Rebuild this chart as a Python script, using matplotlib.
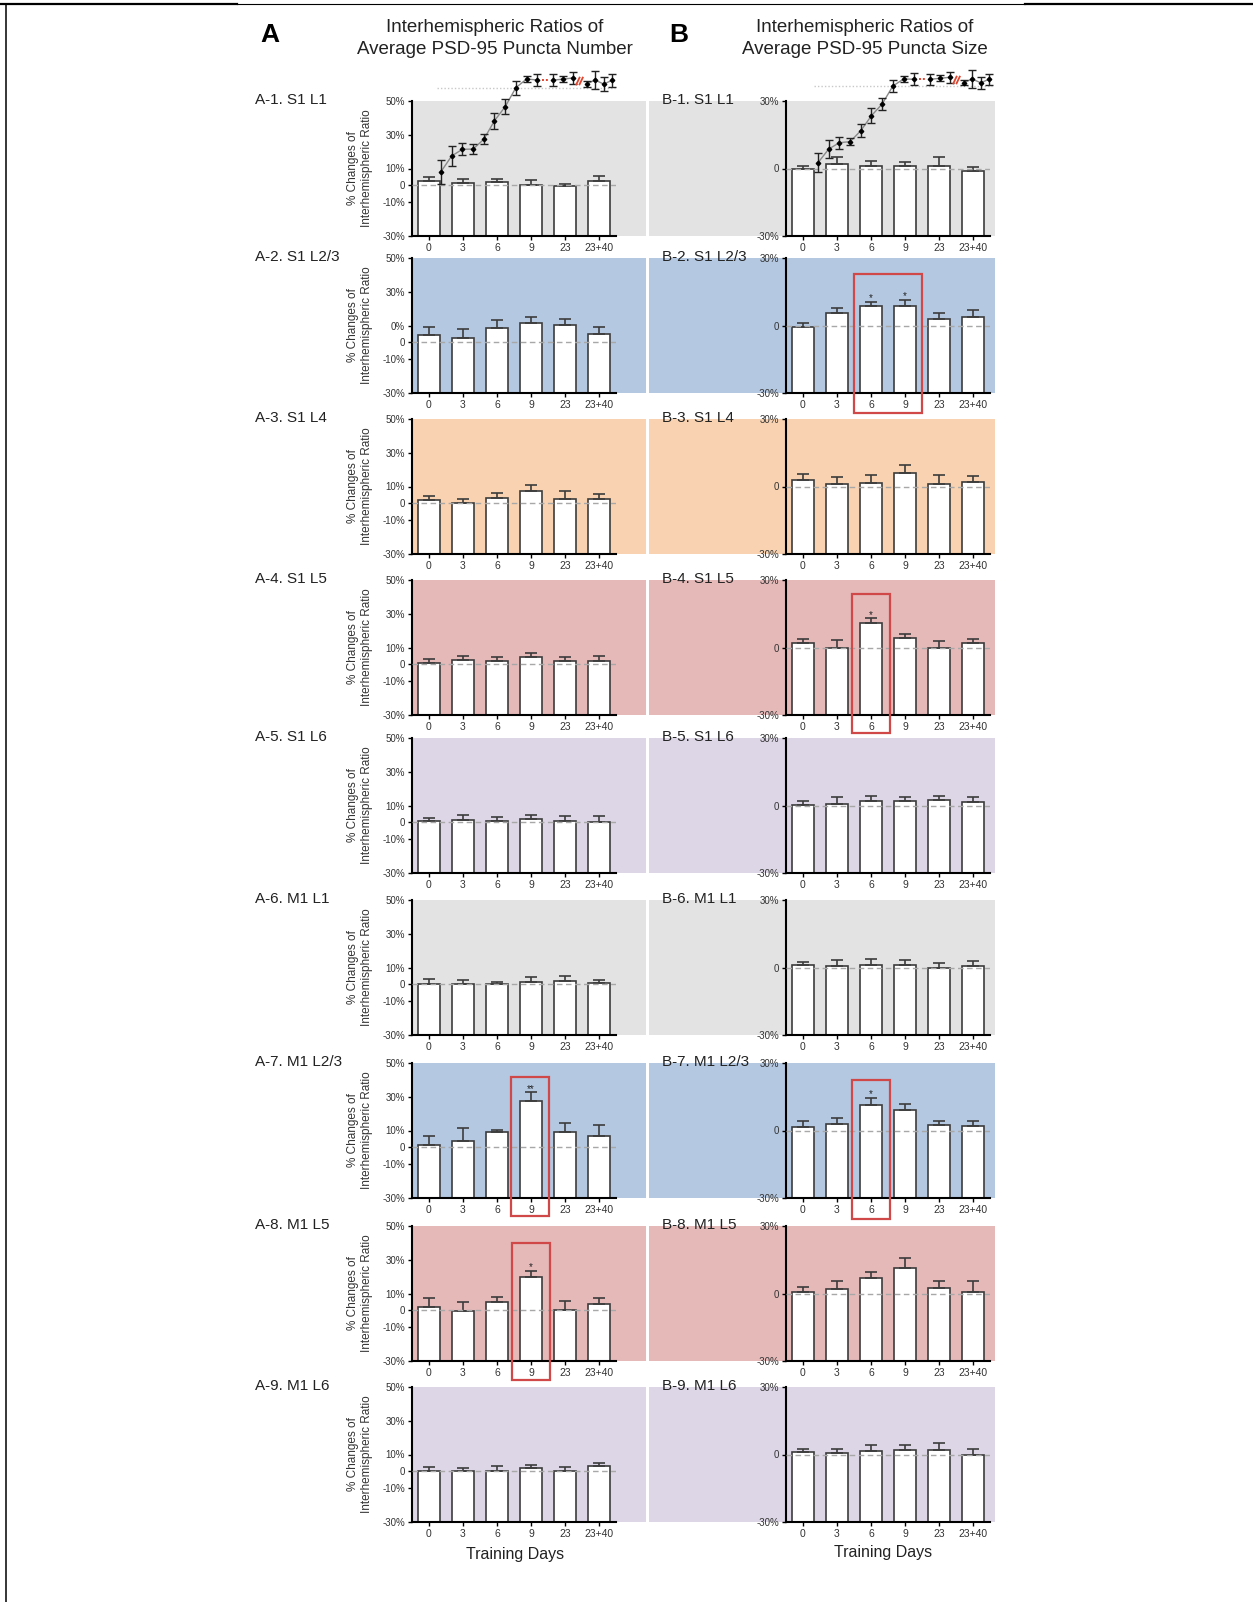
import matplotlib
matplotlib.use("Agg")
import matplotlib.pyplot as plt
from matplotlib.patches import Rectangle
from matplotlib.lines import Line2D

plt.rcParams["font.family"] = ["Liberation Sans", "DejaVu Sans"]

# ---------------------------------------------------------------- data
DAYS = ["0", "3", "6", "9", "23", "23+40"]
REGIONS = ["S1 L1", "S1 L2/3", "S1 L4", "S1 L5", "S1 L6",
           "M1 L1", "M1 L2/3", "M1 L5", "M1 L6"]

# Puncta number: % change of interhemispheric ratio (mean, SEM)
A1_MEAN = [2.5, 1.6, 2.0, 0.4, -0.6, 2.5]
A1_SEM = [2.2, 2.0, 1.6, 2.7, 1.4, 2.9]
A2_MEAN = [4.5, 2.7, 8.8, 11.2, 10.4, 4.7]
A2_SEM = [4.7, 5.5, 4.5, 3.7, 3.5, 4.3]
A3_MEAN = [1.8, 0.2, 2.9, 7.1, 2.7, 2.7]
A3_SEM = [2.7, 2.3, 3.1, 3.7, 4.9, 3.1]
A4_MEAN = [1.0, 2.4, 2.0, 4.5, 2.0, 2.2]
A4_SEM = [2.4, 2.5, 2.2, 2.4, 2.2, 2.7]
A5_MEAN = [0.8, 1.6, 1.0, 1.8, 0.8, 0.2]
A5_SEM = [2.0, 2.7, 2.4, 2.5, 2.9, 3.3]
A6_MEAN = [0.5, 0.3, 0.5, 1.5, 2.2, 0.8]
A6_SEM = [2.5, 2.0, 1.0, 3.0, 2.8, 1.7]
A7_MEAN = [1.3, 3.8, 8.9, 27.6, 9.3, 7.0]
A7_SEM = [5.4, 7.5, 1.3, 5.0, 5.0, 6.5]
A8_MEAN = [2.2, -0.5, 4.7, 20.0, 0.3, 3.7]
A8_SEM = [5.2, 5.5, 3.0, 3.5, 5.2, 3.7]
A9_MEAN = [0.3, 0.3, 0.5, 1.8, 0.5, 3.2]
A9_SEM = [2.0, 1.7, 2.5, 2.0, 2.2, 2.0]

# Puncta size: % change of interhemispheric ratio (mean, SEM)
B1_MEAN = [-0.3, 2.1, 1.0, 1.3, 1.3, -1.3]
B1_SEM = [1.6, 3.1, 2.2, 1.6, 3.6, 1.9]
B2_MEAN = [-0.7, 5.5, 8.6, 8.6, 3.0, 4.0]
B2_SEM = [1.9, 2.1, 1.8, 2.7, 2.4, 2.8]
B3_MEAN = [3.0, 1.0, 1.6, 6.0, 1.3, 1.8]
B3_SEM = [2.7, 3.4, 3.7, 3.7, 4.0, 2.8]
B4_MEAN = [1.9, 0.0, 11.1, 4.1, -0.1, 1.9]
B4_SEM = [1.8, 3.5, 1.8, 1.8, 2.8, 1.8]
B5_MEAN = [0.3, 0.7, 2.2, 1.8, 2.4, 1.5]
B5_SEM = [1.6, 3.0, 1.9, 2.2, 1.9, 2.1]
B6_MEAN = [1.2, 0.6, 1.2, 1.0, -0.2, 0.6]
B6_SEM = [1.3, 2.7, 2.7, 2.3, 2.1, 2.1]
B7_MEAN = [1.5, 2.9, 11.5, 9.2, 2.5, 1.9]
B7_SEM = [2.7, 2.5, 2.9, 2.7, 1.9, 2.5]
B8_MEAN = [0.6, 2.1, 6.7, 11.5, 2.3, 0.6]
B8_SEM = [2.5, 3.3, 2.9, 4.4, 3.3, 5.0]
B9_MEAN = [1.2, 0.6, 1.5, 1.9, 2.2, -0.1]
B9_SEM = [1.3, 1.9, 2.7, 2.5, 2.8, 2.4]

NO_SIG = ["", "", "", "", "", ""]
A7_SIG = ["", "", "", "**", "", ""]
A8_SIG = ["", "", "", "*", "", ""]
B2_SIG = ["", "", "*", "*", "", ""]
B4_SIG = ["", "", "*", "", "", ""]
B7_SIG = ["", "", "*", "", "", ""]

# learning curve (success rate, %) over training sessions
SESSION_X = [1, 2, 3, 4, 5, 6, 7, 8, 9, 10, 11.5, 12.4, 13.3, 14.6, 15.4, 16.2, 17.0]
A_CURVE = [14.1, 26.2, 31.3, 31.5, 39.0, 53.3, 64.1, 78.7, 85.4, 84.6,
           84.6, 85.2, 86.2, 81.5, 84.6, 81.5, 84.4]
A_CURVE_SEM = [9.2, 7.7, 4.6, 3.8, 3.7, 6.2, 5.8, 5.5, 2.1, 4.9,
               4.6, 2.3, 4.9, 2.1, 6.9, 5.4, 4.9]
B_CURVE = [21.0, 31.5, 36.4, 37.2, 45.6, 57.2, 66.2, 80.0, 85.4, 85.2,
           85.2, 85.9, 86.7, 82.5, 85.4, 82.5, 85.2]
B_CURVE_SEM = [7.3, 6.7, 4.6, 2.5, 4.8, 5.5, 4.8, 4.8, 2.5, 4.5,
               4.2, 2.2, 4.2, 2.1, 6.7, 4.8, 4.2]
A_PLATEAU = 78.5
B_PLATEAU = 80.0

A_YTICKS = [50, 30, 10, 0, -10, -30]
A_YTICKLABELS = ["50%", "30%", "10%", "0", "-10%", "-30%"]
A2_YTICKLABELS = ["50%", "30%", "0%", "0", "-10%", "-30%"]
B_YTICKS = [30, 0, -30]
B_YTICKLABELS = ["30%", "0", "-30%"]

LAYER_COLORS = {"L1": "#e3e3e3", "L2/3": "#b4c8e1", "L4": "#f9d3b1",
                "L5": "#e6b9b9", "L6": "#ddd6e6"}

A_MEANS = [A1_MEAN, A2_MEAN, A3_MEAN, A4_MEAN, A5_MEAN, A6_MEAN, A7_MEAN, A8_MEAN, A9_MEAN]
A_SEMS = [A1_SEM, A2_SEM, A3_SEM, A4_SEM, A5_SEM, A6_SEM, A7_SEM, A8_SEM, A9_SEM]
A_SIGS = [NO_SIG] * 6 + [A7_SIG, A8_SIG, NO_SIG]
B_MEANS = [B1_MEAN, B2_MEAN, B3_MEAN, B4_MEAN, B5_MEAN, B6_MEAN, B7_MEAN, B8_MEAN, B9_MEAN]
B_SEMS = [B1_SEM, B2_SEM, B3_SEM, B4_SEM, B5_SEM, B6_SEM, B7_SEM, B8_SEM, B9_SEM]
B_SIGS = [NO_SIG, B2_SIG, NO_SIG, B4_SIG, NO_SIG, NO_SIG, B7_SIG, NO_SIG, NO_SIG]

# ---------------------------------------------------------------- layout
W, H = 1253, 1602
fig = plt.figure(figsize=(W / 100, H / 100), dpi=100)

PANEL_TOPS = [101, 258, 419, 580, 738, 900, 1063, 1226, 1387]
PANEL_H = 135
A_X = (412, 616)
B_X = (786, 990)
EDGE = "#3c3c3c"
RED = "#d04848"


def px_axes(x0, y0, x1, y1):
    return fig.add_axes([x0 / W, 1 - y1 / H, (x1 - x0) / W, (y1 - y0) / H])


def bar_panel(ax, means, sems, sig, ylo, yhi, yticks, yticklabels, color, bg_span):
    ax.patch.set_visible(False)
    ax.add_patch(Rectangle((bg_span[0], 0), bg_span[1] - bg_span[0], 1,
                           transform=ax.transAxes, facecolor=color,
                           edgecolor="none", zorder=0, clip_on=False))
    xs = list(range(len(DAYS)))
    ax.bar(xs, [m - ylo for m in means], bottom=ylo, width=0.64, color="white",
           edgecolor=EDGE, linewidth=1.2, zorder=2)
    ax.errorbar(xs, means, yerr=[[0] * len(means), sems], fmt="none",
                ecolor=EDGE, elinewidth=1.2, capsize=4, capthick=1.2, zorder=3)
    ax.axhline(0, color="#a8a8a8", lw=1.0, ls=(0, (4, 2.5)), zorder=4)
    for x, m, s, mark in zip(xs, means, sems, sig):
        if mark:
            ax.annotate(mark, (x, m + s), xytext=(0, 0.5), textcoords="offset points",
                        ha="center", va="baseline", fontsize=7, color="#222222")
    ax.set_xlim(-0.5, len(DAYS) - 0.5)
    ax.set_ylim(ylo, yhi)
    ax.set_xticks(xs)
    ax.set_xticklabels(DAYS)
    ax.set_yticks(yticks)
    ax.set_yticklabels(yticklabels)
    for side in ("top", "right"):
        ax.spines[side].set_visible(False)
    for side in ("left", "bottom"):
        ax.spines[side].set_linewidth(1.5)
        ax.spines[side].set_color("black")
    ax.tick_params(axis="both", length=3, width=1, color="black",
                   labelcolor="#333333", pad=2)
    ax.tick_params(axis="x", labelsize=7.5)
    ax.tick_params(axis="y", labelsize=7)


def red_box(ax, x0, x1, y0, y1):
    ax.add_patch(Rectangle((x0, y0), x1 - x0, y1 - y0, fill=False,
                           edgecolor=RED, lw=1.6, clip_on=False, zorder=6))


axes_a, axes_b = [], []
for i, region in enumerate(REGIONS):
    top = PANEL_TOPS[i]
    layer = region.split()[1]
    color = LAYER_COLORS[layer]

    ax = px_axes(A_X[0], top, A_X[1], top + PANEL_H)
    ticklabels = A2_YTICKLABELS if i == 1 else A_YTICKLABELS
    bar_panel(ax, A_MEANS[i], A_SEMS[i], A_SIGS[i], -30, 50, A_YTICKS, ticklabels,
              color, (0, (646 - A_X[0]) / (A_X[1] - A_X[0])))
    ax.set_ylabel("% Changes of\nInterhemispheric Ratio", fontsize=8.5,
                  color="#333333", linespacing=1.25)
    ax.yaxis.set_label_coords(-0.19, 0.5)
    axes_a.append(ax)
    fig.text(255 / W, 1 - (top - 1) / H, f"A-{i + 1}. {region}", fontsize=11,
             ha="left", va="center", color="#222222")

    bx = px_axes(B_X[0], top, B_X[1], top + PANEL_H)
    span = B_X[1] - B_X[0]
    bar_panel(bx, B_MEANS[i], B_SEMS[i], B_SIGS[i], -30, 30, B_YTICKS, B_YTICKLABELS,
              color, ((649 - B_X[0]) / span, (995 - B_X[0]) / span))
    axes_b.append(bx)
    fig.text(662 / W, 1 - (top - 1) / H, f"B-{i + 1}. {region}", fontsize=11,
             ha="left", va="center", color="#222222")

# highlighted time points
red_box(axes_a[6], 2.42, 3.53, -40.6, 42)
red_box(axes_a[7], 2.45, 3.55, -41, 40)
red_box(axes_b[1], 1.5, 3.5, -38.7, 23)
red_box(axes_b[3], 1.45, 2.56, -38, 23.7)
red_box(axes_b[6], 1.45, 2.55, -39.4, 22.4)


# ---------------------------------------------------------------- learning curves
def learning_curve(x0, curve, sem, plateau):
    ax = px_axes(x0, 60, x0 + 190, 190)
    ax.set_xlim(-0.028, 17.73)
    ax.set_ylim(0, 100)
    ax.axis("off")
    ax.plot([0.6, 17.3], [plateau, plateau], color="#c8c8c8", lw=1, ls=(0, (1, 1.5)), zorder=1)
    for a, b in ((0, 10), (10, 13), (13, 17)):
        ax.plot(SESSION_X[a:b], curve[a:b], color="#8a8a8a", lw=1, zorder=2)
    ax.errorbar(SESSION_X, curve, yerr=sem, fmt="D", ms=2.3, color="black",
                ecolor="#222222", elinewidth=1, capsize=3, capthick=1, zorder=3)
    yr = (curve[9] + curve[10]) / 2
    ax.plot([10.42, 11.1], [yr, yr], color="#e0452f", lw=1.4, ls=(0, (1, 1)), zorder=2)
    xb = (SESSION_X[12] + SESSION_X[13]) / 2
    yb = (curve[12] + curve[13]) / 2
    for dx in (-0.15, 0.15):
        ax.plot([xb + dx - 0.15, xb + dx + 0.15], [yb - 2.6, yb + 2.6],
                color="#e0452f", lw=1.3, zorder=4)


learning_curve(430, A_CURVE, A_CURVE_SEM, A_PLATEAU)
learning_curve(807, B_CURVE, B_CURVE_SEM, B_PLATEAU)

# ---------------------------------------------------------------- headings
fig.text(270 / W, 1 - 35 / H, "A", fontsize=19, fontweight="bold", ha="center", va="center")
fig.text(679 / W, 1 - 35 / H, "B", fontsize=19, fontweight="bold", ha="center", va="center")
fig.text(495 / W, 1 - 27 / H, "Interhemispheric Ratios of", fontsize=13.5,
         ha="center", va="center", color="#222222")
fig.text(495 / W, 1 - 50 / H, "Average PSD-95 Puncta Number", fontsize=13.5,
         ha="center", va="center", color="#222222")
fig.text(865 / W, 1 - 27 / H, "Interhemispheric Ratios of", fontsize=13.5,
         ha="center", va="center", color="#222222")
fig.text(865 / W, 1 - 50 / H, "Average PSD-95 Puncta Size", fontsize=13.5,
         ha="center", va="center", color="#222222")
fig.text(515 / W, 1 - 1554 / H, "Training Days", fontsize=11.5,
         ha="center", va="center", color="#222222")
fig.text(883 / W, 1 - 1553 / H, "Training Days", fontsize=11.5,
         ha="center", va="center", color="#222222")

# ---------------------------------------------------------------- page frame
yline = 1 - 4 / H
fig.add_artist(Line2D([0, 237 / W], [yline, yline], transform=fig.transFigure, color="black", lw=1.6))
fig.add_artist(Line2D([237 / W, 1025 / W], [yline, yline], transform=fig.transFigure, color="black", lw=0.8))
fig.add_artist(Line2D([1025 / W, 1], [yline, yline], transform=fig.transFigure, color="black", lw=1.6))
fig.add_artist(Line2D([6 / W, 6 / W], [0, yline], transform=fig.transFigure, color="black", lw=1.1))

fig.savefig("out.png", dpi=100)
